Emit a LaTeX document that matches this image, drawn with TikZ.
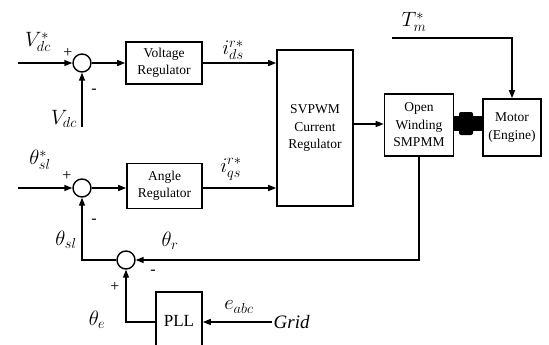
\documentclass[tikz,border=0pt]{standalone}
\usepackage{fontspec}
\setmainfont{Liberation Serif}
\usetikzlibrary{arrows.meta}
\begin{document}
\begin{tikzpicture}[x=1pt,y=-1pt,
  line width=1.4pt,
  arr/.style={-{Triangle[length=8pt,width=6pt]}},
  blk/.style={draw,line width=1.6pt,align=center,font=\fontsize{13.5}{17.5}\selectfont,inner sep=0pt},
  sumc/.style={draw,circle,minimum size=18pt,inner sep=0pt,line width=1.4pt},
  lbl/.style={font=\fontsize{21}{22}\selectfont,inner sep=0pt},
  sgn/.style={font=\fontsize{16}{16}\selectfont,inner sep=0pt}]
\useasboundingbox (0,0) rectangle (549,345);
% blocks
\node[sumc] (s1) at (82,63) {};
\node[blk,minimum width=76pt,minimum height=42pt] (vr) at (164,63) {Voltage\\Regulator};
\node[blk,minimum width=76pt,minimum height=156pt] (svp) at (315,128) {SVPWM\\Current\\Regulator};
\node[blk,minimum width=69pt,minimum height=62pt] (ow) at (419,125) {Open\\Winding\\SMPMM};
\node[blk,minimum width=58pt,minimum height=57pt] (mot) at (512,127.5) {Motor\\(Engine)};
\node[sumc] (s2) at (82,188) {};
\node[blk,minimum width=75pt,minimum height=45pt] (ar) at (164.5,186) {Angle\\Regulator};
\node[sumc] (s3) at (126,260) {};
\node[blk,minimum width=46pt,minimum height=58pt,font=\fontsize{17}{18}\selectfont] (pll) at (179,321) {PLL};
\node[font=\fontsize{19}{20}\selectfont\itshape,inner sep=1pt,anchor=west] (grid) at (272,322) {Grid};
% coupling shaft
\fill (ow.east |- 0,116) rectangle (mot.west |- 0,131);
\fill[rounded corners=2pt] (459,112) rectangle (473,135);
% coordinates
\coordinate (in1) at (18,63);
\coordinate (vdc) at (82,127);
\coordinate (in2) at (18,188);
\coordinate (tm) at (392,38);
% connectors
\draw[arr] (in1) -- (s1.west);
\draw[arr] (s1.east) -- (vr.west);
\draw[arr] (vr.east) -- (svp.west |- vr.east);
\draw[arr] (vdc) -- (s1.south);
\draw[arr] (in2) -- (s2.west);
\draw[arr] (s2.east) -- (ar.west |- s2.east);
\draw[arr] (ar.east |- s2.east) -- (svp.west |- s2.east);
\draw[arr] (svp.east |- 0,124) -- (ow.west |- 0,124);
\draw[arr] (tm) -| (mot.north);
\draw[arr] (ow.south) |- (s3.east);
\draw[arr] (s3.west) -| (s2.south);
\draw[arr] (pll.west |- 0,322) -| (s3.south);
\draw[arr] (grid.west) -- (pll.east |- grid.west);
% labels
\node[lbl] at (38,42) {$V_{dc}^{*}$};
\node[sgn] at (68,53) {+};
\node[sgn] at (94,91) {-};
\node[lbl] at (64,119) {$V_{dc}$};
\node[lbl] at (233,50) {$i_{ds}^{r*}$};
\node[lbl] at (231,169) {$i_{qs}^{r*}$};
\node[lbl] at (40,160) {$\theta_{sl}^{*}$};
\node[sgn] at (67,176) {+};
\node[sgn] at (94,221) {-};
\node[lbl] at (66,240) {$\theta_{sl}$};
\node[lbl] at (170,241) {$\theta_{r}$};
\node[sgn] at (153,272) {-};
\node[sgn] at (115,287) {+};
\node[lbl] at (97,320) {$\theta_{e}$};
\node[lbl] at (239,307) {$e_{abc}$};
\node[lbl] at (414,22) {$T_{m}^{*}$};
\end{tikzpicture}
\end{document}
